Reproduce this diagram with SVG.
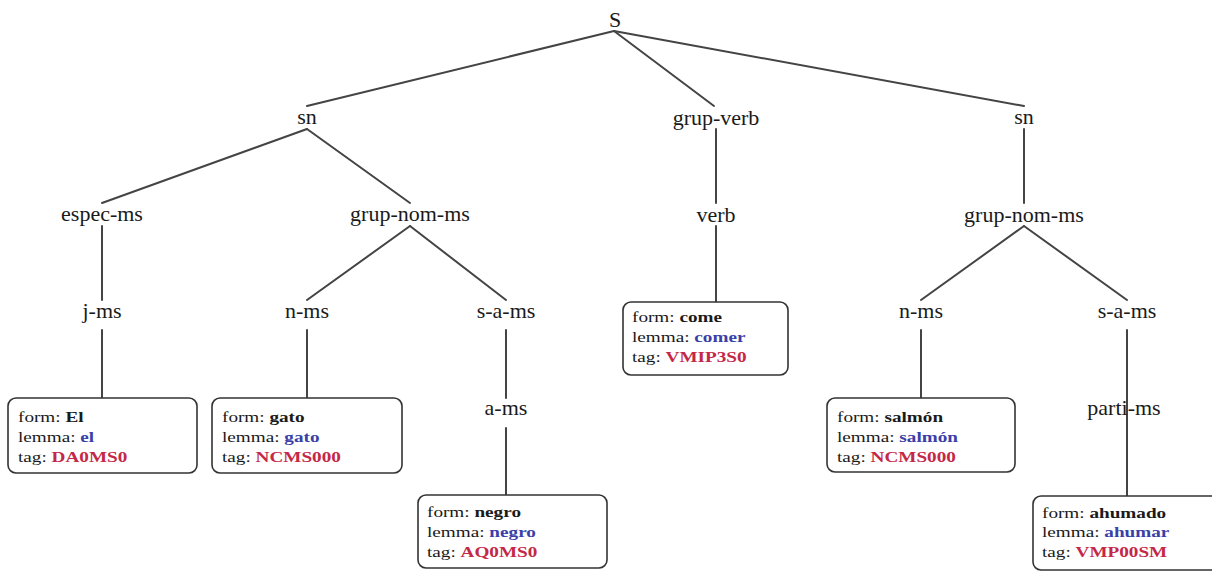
<svg xmlns="http://www.w3.org/2000/svg" width="1212" height="571" viewBox="0 0 1212 571">
<style>
.lbl{font-family:"Liberation Serif","Times New Roman",serif;font-size:22px;fill:#1a1a1a;text-anchor:middle}
.bx{fill:#fff;stroke:#333;stroke-width:1.6}
.t{font-family:"Liberation Serif","Times New Roman",serif;font-size:15px;fill:#1a1a1a}
.b{font-weight:bold}
.lem{font-weight:bold;fill:#3b3fa6}
.tag{font-weight:bold;fill:#c52847}
.edges line{stroke:#444;stroke-width:2;stroke-linecap:round}
</style>
<rect width="1212" height="571" fill="#fff"/>
<g class="edges" id="connectors">
<line x1="614" y1="31" x2="307" y2="106"/>
<line x1="614" y1="31" x2="714" y2="106"/>
<line x1="614" y1="31" x2="1024" y2="106"/>
<line x1="307" y1="129" x2="102" y2="203"/>
<line x1="307" y1="129" x2="410" y2="203"/>
<line x1="102" y1="226" x2="102" y2="300"/>
<line x1="102" y1="330" x2="102" y2="398"/>
<line x1="410" y1="226" x2="307" y2="300"/>
<line x1="410" y1="226" x2="506" y2="300"/>
<line x1="307" y1="330" x2="307" y2="398"/>
<line x1="506" y1="330" x2="506" y2="398"/>
<line x1="506" y1="428" x2="506" y2="495"/>
<line x1="716" y1="129" x2="716" y2="203"/>
<line x1="716" y1="226" x2="716" y2="302"/>
<line x1="1024" y1="129" x2="1024" y2="203"/>
<line x1="1024" y1="226" x2="921" y2="300"/>
<line x1="1024" y1="226" x2="1127" y2="300"/>
<line x1="921" y1="330" x2="921" y2="398"/>
<line x1="1127" y1="330" x2="1127" y2="496"/>
</g>
<g id="n-S"><text class="lbl" x="615" y="27">S</text></g>
<g id="n-sn1"><text class="lbl" x="307" y="124">sn</text></g>
<g id="n-grupverb"><text class="lbl" x="716" y="125">grup-verb</text></g>
<g id="n-sn2"><text class="lbl" x="1024" y="124">sn</text></g>
<g id="n-espec"><text class="lbl" x="102" y="221">espec-ms</text></g>
<g id="n-gnm1"><text class="lbl" x="410" y="221">grup-nom-ms</text></g>
<g id="n-verb"><text class="lbl" x="716" y="222">verb</text></g>
<g id="n-gnm2"><text class="lbl" x="1024" y="222">grup-nom-ms</text></g>
<g id="n-jms"><text class="lbl" x="102" y="318">j-ms</text></g>
<g id="n-nms1"><text class="lbl" x="307" y="318">n-ms</text></g>
<g id="n-sams1"><text class="lbl" x="506" y="318">s-a-ms</text></g>
<g id="n-nms2"><text class="lbl" x="921" y="318">n-ms</text></g>
<g id="n-sams2"><text class="lbl" x="1127" y="318">s-a-ms</text></g>
<g id="n-ams"><text class="lbl" x="506" y="415">a-ms</text></g>
<g id="n-parti"><text class="lbl" x="1124" y="415">parti-ms</text></g>
<g id="leaf-el">
<rect class="bx" x="8" y="398" width="189" height="75" rx="8"/>
<text class="t" transform="translate(18,422) scale(1.28,1)">form: <tspan class="b">El</tspan></text>
<text class="t" transform="translate(18,442) scale(1.28,1)">lemma: <tspan class="lem">el</tspan></text>
<text class="t" transform="translate(18,462) scale(1.28,1)">tag: <tspan class="tag">DA0MS0</tspan></text>
</g>
<g id="leaf-gato">
<rect class="bx" x="212" y="398" width="190" height="75" rx="8"/>
<text class="t" transform="translate(222,422) scale(1.28,1)">form: <tspan class="b">gato</tspan></text>
<text class="t" transform="translate(222,442) scale(1.28,1)">lemma: <tspan class="lem">gato</tspan></text>
<text class="t" transform="translate(222,462) scale(1.28,1)">tag: <tspan class="tag">NCMS000</tspan></text>
</g>
<g id="leaf-negro">
<rect class="bx" x="418" y="495" width="189" height="73" rx="8"/>
<text class="t" transform="translate(427,517) scale(1.28,1)">form: <tspan class="b">negro</tspan></text>
<text class="t" transform="translate(427,537) scale(1.28,1)">lemma: <tspan class="lem">negro</tspan></text>
<text class="t" transform="translate(427,557) scale(1.28,1)">tag: <tspan class="tag">AQ0MS0</tspan></text>
</g>
<g id="leaf-come">
<rect class="bx" x="623" y="302" width="165" height="73" rx="8"/>
<text class="t" transform="translate(632,322) scale(1.28,1)">form: <tspan class="b">come</tspan></text>
<text class="t" transform="translate(632,342) scale(1.28,1)">lemma: <tspan class="lem">comer</tspan></text>
<text class="t" transform="translate(632,362) scale(1.28,1)">tag: <tspan class="tag">VMIP3S0</tspan></text>
</g>
<g id="leaf-salmon">
<rect class="bx" x="827" y="398" width="188" height="74" rx="8"/>
<text class="t" transform="translate(837,422) scale(1.28,1)">form: <tspan class="b">salmón</tspan></text>
<text class="t" transform="translate(837,442) scale(1.28,1)">lemma: <tspan class="lem">salmón</tspan></text>
<text class="t" transform="translate(837,462) scale(1.28,1)">tag: <tspan class="tag">NCMS000</tspan></text>
</g>
<g id="leaf-ahumado">
<rect class="bx" x="1033" y="496" width="190" height="74" rx="8"/>
<text class="t" transform="translate(1042,518) scale(1.28,1)">form: <tspan class="b">ahumado</tspan></text>
<text class="t" transform="translate(1042,537) scale(1.28,1)">lemma: <tspan class="lem">ahumar</tspan></text>
<text class="t" transform="translate(1042,557) scale(1.28,1)">tag: <tspan class="tag">VMP00SM</tspan></text>
</g>
</svg>
